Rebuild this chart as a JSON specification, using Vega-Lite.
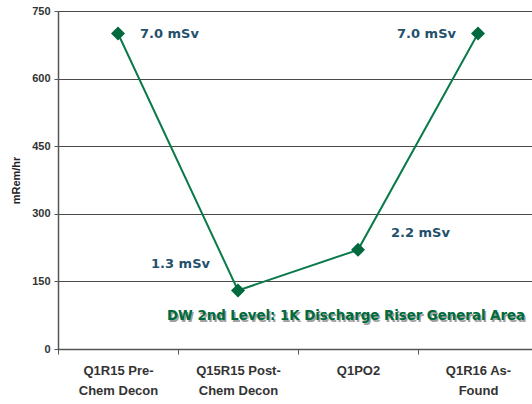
{
  "$schema": "https://vega.github.io/schema/vega-lite/v6.json",
  "width": 474,
  "height": 338,
  "autosize": "none",
  "padding": {"left": 58, "top": 11, "right": 0, "bottom": 55},
  "background": "white",
  "config": {"view": {"stroke": null}},
  "data": {"values": [
    {"cat": "Q1R15 Pre-Chem Decon", "mrem": 700, "label": "7.0 mSv"},
    {"cat": "Q15R15 Post-Chem Decon", "mrem": 130, "label": "1.3 mSv"},
    {"cat": "Q1PO2", "mrem": 220, "label": "2.2 mSv"},
    {"cat": "Q1R16 As-Found", "mrem": 700, "label": "7.0 mSv"}
  ]},
  "encoding": {
    "x": {"field": "cat", "type": "nominal", "sort": null,
      "scale": {"range": [0, 480], "paddingInner": 0, "paddingOuter": 0},
      "axis": {"title": null, "labelAngle": 0, "labelFont": "Liberation Sans", "labelFontWeight": "bold", "labelFontSize": 13, "labelColor": "#333333",
        "labelExpr": "split(replace(datum.label, '-', '-|'), '|')", "labelLineHeight": 20, "labelPadding": 10,
        "domainColor": "#555555", "domainWidth": 1.5, "tickColor": "#555555", "tickSize": 5, "tickBand": "extent", "grid": false}},
    "y": {"field": "mrem", "type": "quantitative",
      "scale": {"domain": [0, 750], "nice": false},
      "axis": {"title": "mRem/hr", "titleFont": "Liberation Sans", "titleFontSize": 11, "titleFontWeight": "bold", "titleColor": "#222222", "titlePadding": 10,
        "values": [0, 150, 300, 450, 600, 750], "labelFont": "Liberation Sans", "labelFontWeight": "bold", "labelFontSize": 11, "labelColor": "#333333", "labelPadding": 4,
        "gridColor": "#4a4a4a", "gridWidth": 1, "domainColor": "#555555", "domainWidth": 1.5, "tickColor": "#555555", "tickSize": 4}}
  },
  "layer": [
    {"mark": {"type": "line", "color": "#0B7A4B", "strokeWidth": 2}},
    {"mark": {"type": "point", "shape": "diamond", "filled": true, "opacity": 1, "color": "#00693E", "size": 196}},
    {"transform": [{"filter": "datum.cat == 'Q1R15 Pre-Chem Decon'"}],
     "mark": {"type": "text", "font": "DejaVu Sans", "fontWeight": "bold", "fontSize": 13, "color": "#24506B", "align": "left", "dx": 22, "dy": 0},
     "encoding": {"text": {"field": "label"}}},
    {"transform": [{"filter": "datum.cat == 'Q15R15 Post-Chem Decon'"}],
     "mark": {"type": "text", "font": "DejaVu Sans", "fontWeight": "bold", "fontSize": 13, "color": "#24506B", "align": "right", "dx": -28, "dy": -26},
     "encoding": {"text": {"field": "label"}}},
    {"transform": [{"filter": "datum.cat == 'Q1PO2'"}],
     "mark": {"type": "text", "font": "DejaVu Sans", "fontWeight": "bold", "fontSize": 13, "color": "#24506B", "align": "left", "dx": 33, "dy": -17},
     "encoding": {"text": {"field": "label"}}},
    {"transform": [{"filter": "datum.cat == 'Q1R16 As-Found'"}],
     "mark": {"type": "text", "font": "DejaVu Sans", "fontWeight": "bold", "fontSize": 13, "color": "#24506B", "align": "right", "dx": -22, "dy": 0},
     "encoding": {"text": {"field": "label"}}},
    {"transform": [{"filter": "datum.cat == 'Q1PO2'"}],
     "mark": {"type": "text", "font": "DejaVu Sans Condensed", "fontWeight": "bold", "fontSize": 14.8, "color": "#A0A0A0", "align": "center", "baseline": "middle", "dx": -10.5, "dy": 1.5},
     "encoding": {"y": {"datum": 73}, "text": {"value": "DW 2nd Level: 1K Discharge Riser General Area"}}},
    {"transform": [{"filter": "datum.cat == 'Q1PO2'"}],
     "mark": {"type": "text", "font": "DejaVu Sans Condensed", "fontWeight": "bold", "fontSize": 14.8, "color": "#006B3C", "align": "center", "baseline": "middle", "dx": -12, "dy": 0},
     "encoding": {"y": {"datum": 73}, "text": {"value": "DW 2nd Level: 1K Discharge Riser General Area"}}}
  ]
}
